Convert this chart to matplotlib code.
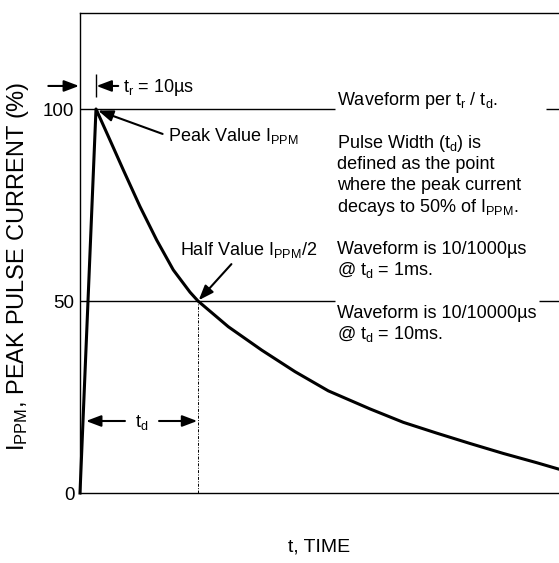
import matplotlib
matplotlib.use("Agg")
import matplotlib.pyplot as plt

plt.rcParams['font.family'] = ['Liberation Sans', 'DejaVu Sans']
plt.rcParams['mathtext.default'] = 'regular'

# Pulse waveform (% of peak current vs. time, arbitrary time units; t_r = 10)
time_pts = [0, 10, 18.75, 27.1, 37.5, 47.9, 58.3, 68.75, 73.75, 92.7, 113.6,
            134.4, 155.2, 181.25, 202.1, 222.9, 243.75, 264.6, 285.4, 299.4]
current_pts = [0, 100, 91.9, 84.1, 74.6, 65.9, 58.1, 52.3, 50.0, 43.3, 37.2,
               31.6, 26.6, 21.9, 18.4, 15.6, 12.9, 10.3, 7.9, 6.2]
t_rise = 10
t_half = 73.75
y_ticks = [0, 50, 100]
y_ticklabels = ['0', '50', '100']

W, H = 559, 563
fig = plt.figure(figsize=(W / 100, H / 100), dpi=100)
ax = fig.add_axes([80 / W, (H - 493) / H, 479 / W, 480 / H])
ax.set_xlim(0, 299.4)
ax.set_ylim(0, 125)

ax.plot(time_pts, current_pts, color='black', lw=2.2, solid_joinstyle='round',
        clip_on=False)

# reference lines (gapped around the notes)
ax.hlines([100, 50], 0, 159.4, color='black', lw=1.0)
ax.hlines([100], 291, 299.4, color='black', lw=1.0)
ax.hlines([50], 287, 299.4, color='black', lw=1.0)
ax.vlines([t_half], 0, 50, color='black', lw=0.7, linestyles=(0, (3, 1.5, 1, 1.5)))

for s in ['left', 'top', 'bottom']:
    ax.spines[s].set_linewidth(1.0)
ax.spines['right'].set_visible(False)
ax.set_xticks([])
ax.set_yticks(y_ticks)
ax.set_yticklabels(y_ticklabels, fontsize=13.5)
ax.tick_params(axis='y', length=0, pad=4)

FS = 13
ap = dict(arrowstyle='-|>,head_length=0.45,head_width=0.17', color='black',
          lw=1.5, mutation_scale=20, shrinkA=0, shrinkB=0)

# t_r marker
ax.vlines([t_rise], 103, 109.1, color='black', lw=1.0, clip_on=False)
ax.annotate('', xy=(t_rise + 0.3, 106), xytext=(23.9, 106), arrowprops=ap,
            annotation_clip=False)
ax.annotate('', xy=(-0.6, 106), xytext=(-19.8, 106), arrowprops=ap,
            annotation_clip=False)
ax.text(27.1, 104.3, 't$_r$ = 10µs', fontsize=FS, va='baseline', ha='left')

# Peak value
ax.annotate('Peak Value I$_{PPM}$', xy=(11.3, 99.6), xytext=(55, 93.0),
            fontsize=FS, va='center', ha='left',
            arrowprops=dict(ap, relpos=(0, 0.5), shrinkA=2))

# Half value
ax.annotate('Half Value I$_{PPM}$/2', xy=(74.2, 50.2), xytext=(62.5, 63.2),
            fontsize=FS, va='center', ha='left',
            arrowprops=dict(ap, relpos=(0.4, 0.0), shrinkA=1))

# t_d arrows
ax.annotate('', xy=(3.75, 18.75), xytext=(28.1, 18.75), arrowprops=ap)
ax.annotate('', xy=(73.3, 18.75), xytext=(49.4, 18.75), arrowprops=ap)
ax.text(38.5, 17.1, 't$_d$', fontsize=FS, va='baseline', ha='center')

# notes
tx = 160.6
notes = [
    (101.0, 'Waveform per t$_r$ / t$_d$.'),
    (89.9, 'Pulse Width (t$_d$) is'),
    (84.3, 'defined as the point'),
    (78.9, 'where the peak current'),
    (73.3, 'decays to 50% of I$_{PPM}$.'),
    (62.2, 'Waveform is 10/1000µs'),
    (56.7, '@ t$_d$ = 1ms.'),
    (45.5, 'Waveform is 10/10000µs'),
    (40.0, '@ t$_d$ = 10ms.'),
]
for yy, s in notes:
    ax.text(tx, yy, s, fontsize=FS, va='baseline', ha='left')

fig.text(18 / W, 1 - 266 / H, 'I$_{PPM}$, PEAK PULSE CURRENT (%)', rotation=90,
         fontsize=17, ha='center', va='center')
fig.text(319 / W, 1 - 547 / H, 't, TIME', fontsize=14, ha='center', va='center')

fig.savefig('out.png', dpi=100)
